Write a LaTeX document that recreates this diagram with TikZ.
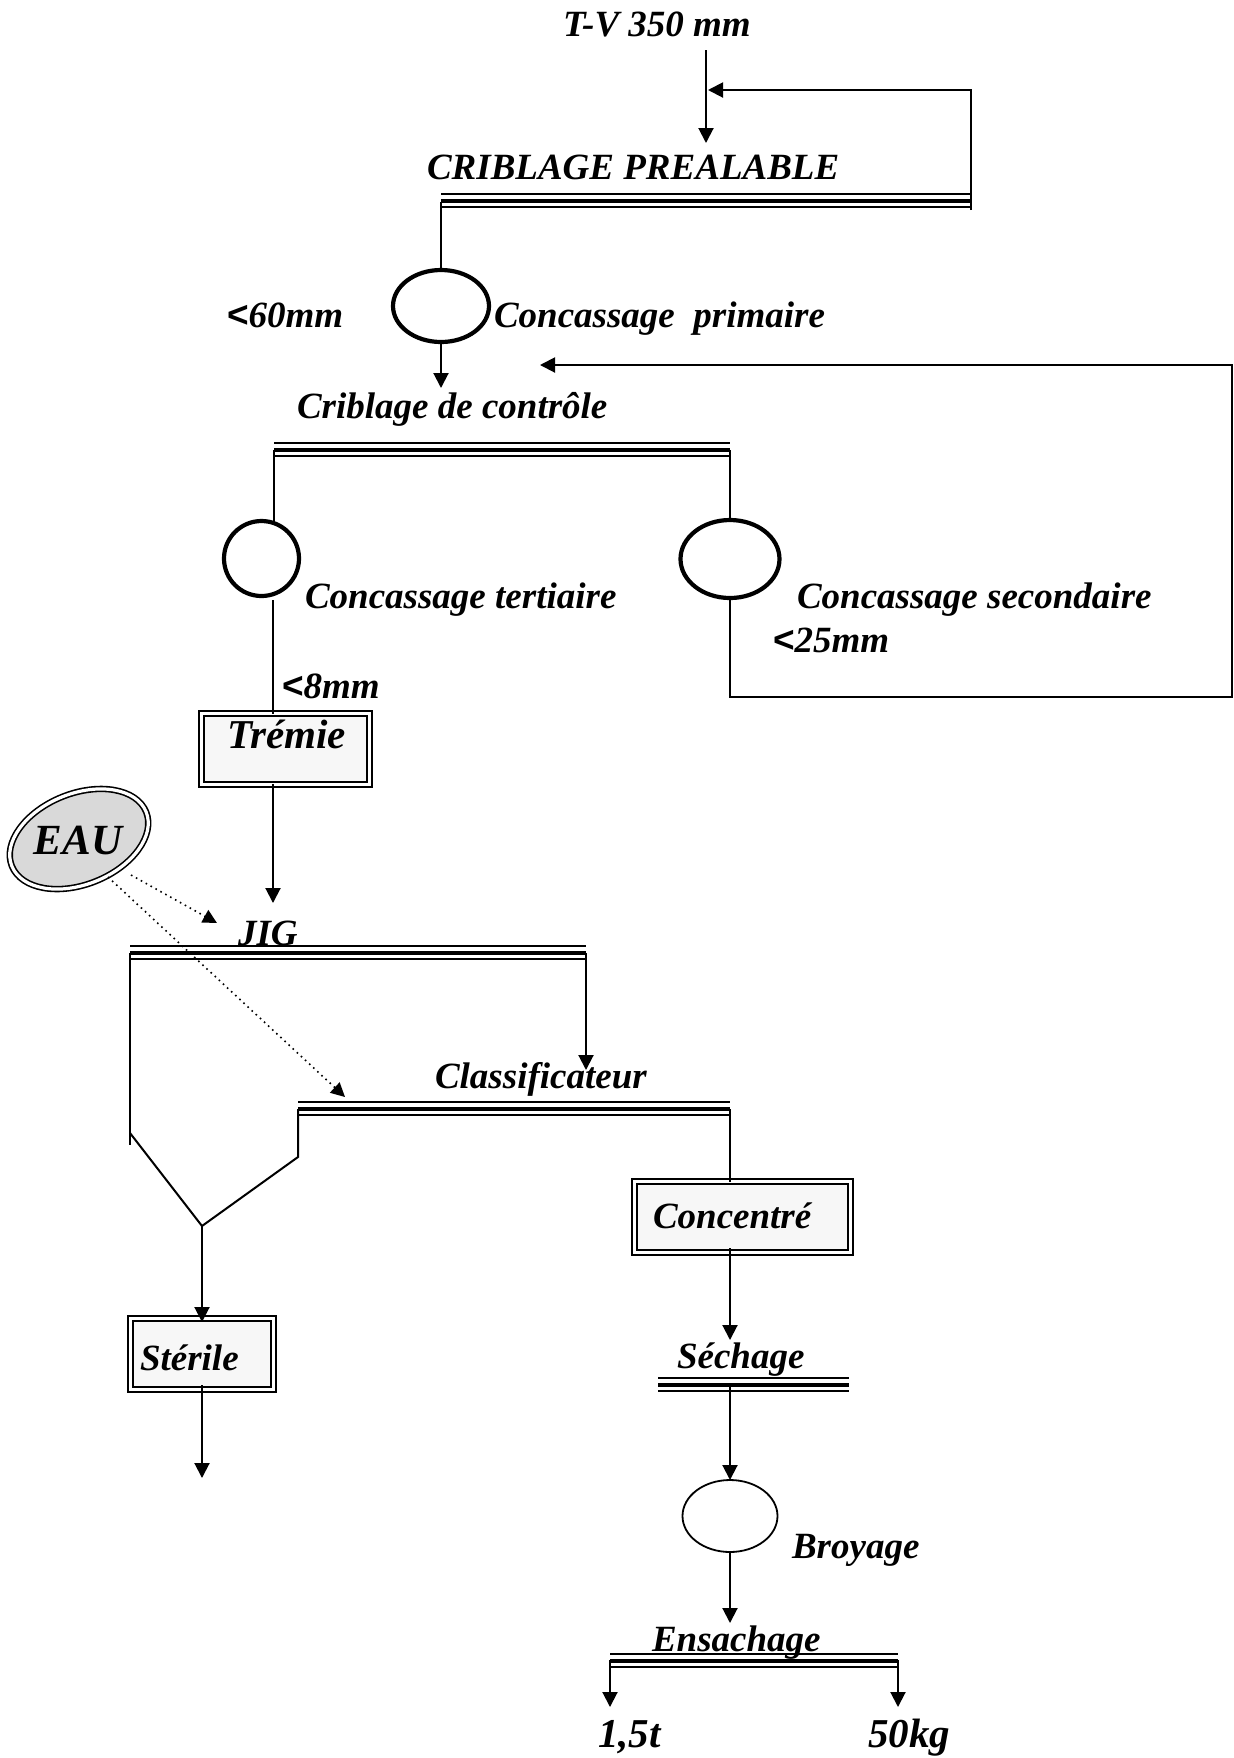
\documentclass[tikz,border=0pt]{standalone}
\usepackage{fontspec}
\setmainfont{Liberation Serif}
\newfontfamily\ltfont{Liberation Sans}
\newcommand{\lessthan}{{\ltfont\bfseries\upshape <}}
\usetikzlibrary{arrows.meta,shapes.geometric}
\newcommand{\tribar}[3]{%
  \draw[thinbar] (#1,#3) -- (#2,#3);
  \draw[thickbar] (#1,#3+7) -- (#2,#3+7);
  \draw[thinbar] (#1,#3+13) -- (#2,#3+13);}
\begin{document}
\begin{tikzpicture}[x=0.5pt,y=-0.5pt,
  every node/.style={inner sep=0pt, outer sep=0pt},
  lbl/.style={anchor=base west, font=\fontsize{18.5}{20}\selectfont\bfseries\itshape},
  biglbl/.style={anchor=base west, font=\fontsize{20.5}{22}\selectfont\bfseries\itshape},
  conn/.style={line width=1pt},
  arr/.style={conn, -{Triangle[length=7.5pt,width=7.5pt]}},
  crusher/.style={ellipse, draw, line width=2.1pt},
  mill/.style={ellipse, draw, line width=0.9pt},
  thinbar/.style={line width=0.85pt},
  thickbar/.style={line width=2.2pt},
  dbox/.style={draw, double, line width=1.1pt, double distance=1.4pt, fill=gray!6},
  waterarrow/.style={line width=0.8pt, dotted, -{Triangle[length=7pt,width=7pt]}},
]
\useasboundingbox (0,0) rectangle (1234,1758);

% ---------- texts ----------
\node[lbl] (tv) at (563,36) {T-V 350 mm};
\node[lbl] (cpt) at (427,179) {CRIBLAGE PREALABLE};
\node[lbl] (c60) at (227,327) {\lessthan 60mm};
\node[lbl] (cprim) at (494,327) {Concassage\ \ primaire};
\node[lbl] (cdc) at (297,418) {Criblage de contrôle};
\node[lbl] (ctert) at (305,608) {Concassage tertiaire};
\node[lbl] (csec) at (797,608) {Concassage secondaire};
\node[lbl] (c25) at (773,652) {\lessthan 25mm};
\node[lbl] (c8) at (282,698) {\lessthan 8mm};
\node[lbl] (jig) at (238,945) {JIG};
\node[lbl] (cls) at (435,1088) {Classificateur};
\node[lbl] (sech) at (677,1368) {Séchage};
\node[lbl] (broy) at (792,1558) {Broyage};
\node[lbl] (ens) at (652,1651) {Ensachage};
\node[biglbl] (t15) at (598,1747) {1,5t};
\node[biglbl] (t50) at (868,1747) {50kg};

% ---------- shapes ----------
\node[crusher, minimum width=48pt, minimum height=36pt] (c1) at (441,306) {};
\node[crusher, minimum width=37.5pt, minimum height=37.5pt] (c3) at (261.5,558.5) {};
\node[crusher, minimum width=49.5pt, minimum height=39pt] (c2) at (730,559) {};
\node[mill, minimum width=47.5pt, minimum height=36pt] (broyE) at (730,1516) {};

\node[dbox, minimum width=83.9pt, minimum height=35.4pt] (trem) at (285.5,749) {};
\node[biglbl] (tremt) at (227,748) {Trémie};
\node[dbox, minimum width=107.9pt, minimum height=35.4pt] (conc) at (742.5,1217) {};
\node[lbl] (conct) at (653,1228) {Concentré};
\node[dbox, minimum width=71.4pt, minimum height=35.4pt] (ster) at (202,1354) {};
\node[lbl] (stert) at (140,1370) {Stérile};

\node[ellipse, draw, double, line width=0.8pt, double distance=1.6pt, fill=gray!30,
      minimum width=72.4pt, minimum height=45.4pt, rotate=22] (eau) at (79,839) {};
\node[font=\fontsize{21.5}{23}\selectfont\bfseries\itshape] (eaut) at (78,840) {EAU};

% ---------- screens (triple bars) ----------
\tribar{441}{971}{194}
\tribar{274}{730}{443}
\tribar{130}{586}{946}
\tribar{298}{730}{1102}
\tribar{658}{849}{1378}
\tribar{610}{898}{1654}

% ---------- coordinates ----------
\coordinate (tvb) at (706,50);
\coordinate (cpin) at (706,143);
\coordinate (b1r) at (971,210);
\coordinate (fb1) at (971,90);
\coordinate (fb1t) at (708,90);
\coordinate (b1l) at (441,202);
\coordinate (c1o) at (441,388);
\coordinate (b2l) at (274,450);
\coordinate (b2r) at (730,450);
\coordinate (c3o) at (273,600);
\coordinate (fb2a) at (730,697);
\coordinate (fb2b) at (1232,697);
\coordinate (fb2c) at (1232,365);
\coordinate (fb2t) at (540,365);
\coordinate (jigin) at (273,903);
\coordinate (b3l) at (130,953);
\coordinate (b3r) at (586,953);
\coordinate (hopL) at (130,1145);
\coordinate (hopL2) at (130,1133);
\coordinate (hopB) at (202,1226);
\coordinate (clsin) at (586,1070);
\coordinate (b4l) at (298,1109);
\coordinate (b4r) at (730,1109);
\coordinate (hopR) at (298,1157);
\coordinate (sterin) at (202,1322);
\coordinate (sterout) at (202,1385);
\coordinate (sterend) at (202,1478);
\coordinate (concout) at (730,1248);
\coordinate (sechin) at (730,1340);
\coordinate (b5) at (730,1384);
\coordinate (ensin) at (730,1623);
\coordinate (b6l) at (610,1660);
\coordinate (b6r) at (898,1660);
\coordinate (o1) at (610,1707);
\coordinate (o2) at (898,1707);
\coordinate (w1s) at (131,875);
\coordinate (w1t) at (217,923);
\coordinate (w2s) at (108,877);
\coordinate (w2t) at (345,1097);

% ---------- connectors ----------
\draw[arr] (tvb) -- (cpin);
\draw[arr] (b1r) -- (fb1) -- (fb1t);
\draw[conn] (b1l) -- (c1.north);
\draw[arr] (c1.south) -- (c1o);
\draw[conn] (b2l) -- (b2l |- c3.north);
\draw[conn] (b2r) -- (c2.north);
\draw[conn] (c3o) -- (trem.north -| c3o);
\draw[arr] (c2.south) -- (fb2a) -- (fb2b) -- (fb2c) -- (fb2t);
\draw[arr] (trem.south -| jigin) -- (jigin);
\draw[conn] (b3l) -- (hopL);
\draw[conn] (hopL2) -- (hopB);
\draw[arr] (b3r) -- (clsin);
\draw[conn] (b4l) -- (hopR) -- (hopB);
\draw[arr] (hopB) -- (sterin);
\draw[arr] (sterout) -- (sterend);
\draw[conn] (b4r) -- (conc.north -| b4r);
\draw[arr] (concout) -- (sechin);
\draw[arr] (b5) -- (broyE.north);
\draw[arr] (broyE.south) -- (ensin);
\draw[arr] (b6l) -- (o1);
\draw[arr] (b6r) -- (o2);
\draw[waterarrow] (w1s) -- (w1t);
\draw[waterarrow] (w2s) -- (w2t);
\end{tikzpicture}
\end{document}
